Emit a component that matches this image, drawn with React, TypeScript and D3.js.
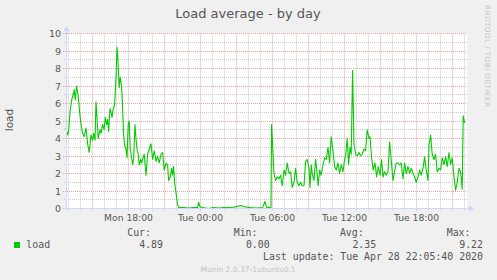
import React, { useEffect } from 'react';
import * as d3 from 'd3';

// Graph start: Mon Apr 27 2020 12:45:40, 5-minute samples, 2000 minutes shown
const START = new Date(2020, 3, 27, 12, 45, 40);
const SPAN_MINUTES = 2000;

// minutes since START
const loadMinutes = [
  2, 10, 15, 22, 30, 38, 43, 48, 55, 62, 68, 72, 77, 85, 93, 102, 110, 118, 127, 135,
  140, 147, 152, 157, 163, 172, 177, 185, 193, 198, 205, 210, 215, 222, 227, 232, 238, 245, 252, 257,
  262, 268, 273, 280, 285, 290, 295, 302, 307, 313, 318, 323, 330, 335, 340, 347, 352, 357, 363, 368,
  375, 380, 387, 393, 402,
  410, 418, 427, 435, 443, 452, 460, 468, 477, 485, 493, 502, 510, 515, 523, 530, 535, 540, 545, 552,
  560, 568, 590, 615, 640, 660, 665, 672, 685, 715, 740, 765, 790, 815, 843, 876, 893, 925, 955, 985,
  997, 1005, 1018, 1027,
  1030, 1042, 1050, 1058, 1067, 1075, 1083, 1092, 1100, 1108,
  1117, 1125, 1133, 1142, 1150, 1158, 1167, 1175, 1183, 1192,
  1200, 1208, 1217, 1222, 1228, 1233, 1242, 1250, 1255, 1263,
  1270, 1278, 1287, 1295, 1303, 1312, 1320, 1328, 1337, 1345,
  1353, 1362, 1370, 1378, 1387, 1395, 1400, 1408, 1415, 1422,
  1428, 1435, 1442, 1450, 1458, 1467, 1475, 1483, 1492, 1500,
  1508, 1517, 1522, 1530, 1538, 1547, 1555, 1563, 1572, 1580,
  1587, 1595, 1603, 1612, 1620, 1628, 1637, 1645, 1653, 1662,
  1670, 1678, 1687, 1695, 1703, 1712, 1720, 1728, 1737, 1745,
  1753, 1762, 1770, 1778, 1787, 1795, 1803, 1812, 1817, 1825,
  1833, 1842, 1850, 1858, 1867, 1875, 1883, 1892, 1900, 1908,
  1917, 1925, 1933, 1942, 1950, 1958, 1967, 1975, 1983, 1988,
  1995,
];

const loadValues = [
  4.6, 4.2, 4.4, 5.5, 6.2, 6.5, 6.8, 6.2, 7.0, 6.5, 5.8, 5.3, 4.8, 4.3, 4.1, 4.6, 3.7, 3.2, 4.2, 3.9,
  4.3, 3.9, 6.1, 5.2, 4.0, 4.5, 4.3, 4.8, 4.5, 5.2, 4.8, 5.1, 4.4, 5.7, 5.5, 5.2, 5.7, 5.9, 7.5, 9.22,
  8.4, 6.9, 7.5, 7.0, 5.7, 4.2, 3.6, 3.4, 2.9, 4.8, 5.0, 3.4, 2.9, 2.5, 2.8, 4.8, 4.0, 3.4, 3.1, 2.5,
  2.8, 2.6, 2.9, 3.1, 1.9,
  3.1, 3.4, 3.7, 2.8, 3.3, 2.7, 3.0, 2.6, 3.1, 3.2, 2.2, 2.6, 2.5, 1.6, 1.8, 2.3, 1.9, 2.4, 1.5, 0.9,
  0.2, 0.05, 0.05, 0.02, 0.05, 0.06, 0.36, 0.1, 0.05, 0.0, 0.05, 0.02, 0.05, 0.06, 0.08, 0.17, 0.1, 0.05, 0.02, 0.05,
  0.4, 0.08, 0.05, 0.05,
  4.8, 2.0, 1.6, 1.8, 1.7, 1.9, 1.3, 2.2, 1.9, 2.6,
  2.0, 2.1, 1.2, 1.5, 2.3, 1.5, 1.3, 1.5, 1.3, 1.3,
  2.7, 2.8, 2.3, 1.2, 2.5, 2.0, 1.6, 2.8, 2.3, 1.3,
  2.2, 1.9, 2.5, 2.9, 2.8, 3.5, 2.6, 4.1, 3.3, 2.4,
  2.2, 2.6, 2.0, 2.5, 2.1, 2.8, 3.0, 4.0, 2.5, 3.5,
  3.1, 7.9, 3.7, 3.1, 3.0, 3.2, 3.0, 3.1, 3.4, 3.3,
  4.5, 4.0, 4.1, 2.9, 2.2, 2.6, 1.8, 2.4, 1.9, 2.8,
  1.8, 2.1, 1.9, 2.1, 3.8, 2.8, 1.6, 2.1, 2.6, 2.6,
  2.5, 2.6, 1.7, 2.6, 2.0, 2.4, 2.0, 2.3, 2.0, 1.8,
  1.5, 1.8, 2.2, 1.9, 2.3, 2.95, 2.2, 1.6, 3.6, 4.2,
  3.1, 2.8, 3.1, 2.1, 2.3, 2.2, 2.9, 2.5, 2.95, 2.4,
  3.2, 2.5, 2.9, 1.8, 1.05, 1.5, 2.3, 2.1, 1.1, 5.3,
  4.89,
];

const yMajorTicks = [0, 1, 2, 3, 4, 5, 6, 7, 8, 9, 10];
const yMinorTicks = [0.5, 1.5, 2.5, 3.5, 4.5, 5.5, 6.5, 7.5, 8.5, 9.5];

const TITLE = 'Load average - by day';
const Y_LABEL = 'load';
const SERIES_NAME = 'load';
const statLabels = ['Cur:', 'Min:', 'Avg:', 'Max:'];
const statValues = ['4.89', '0.00', '2.35', '9.22'];
const LAST_UPDATE = 'Last update: Tue Apr 28 22:05:40 2020';
const FOOTER = 'Munin 2.0.37-1ubuntu0.1';
const WATERMARK = 'RRDTOOL / TOBI OETIKER';

const W = 497;
const H = 280;
const PLOT_L = 65.6;
const PLOT_R = 465.6;
const PLOT_T = 33.5;
const PLOT_B = 208.5;

const SANS = "'DejaVu Sans', sans-serif";
const MONO = "'DejaVu Sans Mono', monospace";
const FONT_COLOR = '#555555';
const AXIS_COLOR = '#CFD6F8';
const GRID_COLOR = '#c8c8c8';
const MGRID_COLOR = '#f2a0a0';
const LINE_COLOR = '#00cc00';

export default function App() {
  useEffect(() => {
    document.body.style.margin = '0';
    document.body.style.background = '#f0f0f0';
  }, []);

  const end = d3.timeMinute.offset(START, SPAN_MINUTES);
  const xs = d3.scaleTime().domain([START, end]).range([PLOT_L, PLOT_R]);
  const ys = d3.scaleLinear().domain([0, 10]).range([PLOT_B, PLOT_T]);

  const data = loadMinutes.map((m, i) => ({
    t: new Date(START.getTime() + m * 60000),
    v: loadValues[i],
  }));

  const line = d3
    .line<{ t: Date; v: number }>()
    .x((d) => xs(d.t))
    .y((d) => ys(d.v));

  const px = (x: number) => Math.floor(x) + 0.5;

  const hourTicks = xs.ticks(d3.timeHour.every(1)!);
  const majorTicks = xs.ticks(d3.timeHour.every(3)!);
  const labelTicks = xs.ticks(d3.timeHour.every(6)!);
  const majorSet = new Set(majorTicks.map((d) => d.getTime()));
  const fmt = d3.timeFormat('%a %H:%M');

  const axisX = 66.5;
  const axisY = PLOT_B;
  const canvasL = 66;
  const canvasR = 467;

  return (
    <div style={{ position: 'fixed', left: 0, top: 0 }}>
      <svg width={W} height={H} style={{ display: 'block' }}>
        <rect x={0} y={0} width={W} height={H} fill="#f0f0f0" />
        <rect x={canvasL} y={33} width={canvasR - canvasL} height={176} fill="#ffffff" />

        {/* minor horizontal grid */}
        {yMinorTicks.map((v) => (
          <line key={'ym' + v} x1={canvasL - 2} x2={canvasR} y1={px(ys(v))} y2={px(ys(v))}
            stroke={GRID_COLOR} strokeWidth={1} strokeDasharray="1,1" />
        ))}
        {/* minor vertical grid */}
        {hourTicks.filter((d) => !majorSet.has(d.getTime())).map((d) => (
          <line key={'xm' + d.getTime()} x1={px(xs(d))} x2={px(xs(d))} y1={PLOT_T} y2={axisY + 2}
            stroke={GRID_COLOR} strokeWidth={1} strokeDasharray="1,1" />
        ))}
        {/* major horizontal grid */}
        {yMajorTicks.map((v) => (
          <line key={'yM' + v} x1={canvasL - 3} x2={canvasR} y1={px(ys(v))} y2={px(ys(v))}
            stroke={MGRID_COLOR} strokeWidth={1} strokeDasharray="1,1" />
        ))}
        {/* major vertical grid */}
        {majorTicks.map((d) => (
          <line key={'xM' + d.getTime()} x1={px(xs(d))} x2={px(xs(d))} y1={PLOT_T} y2={axisY + 3}
            stroke={MGRID_COLOR} strokeWidth={1} strokeDasharray="1,1" />
        ))}

        {/* data line */}
        <path d={line(data) || ''} fill="none" stroke={LINE_COLOR} strokeWidth={1.1} strokeLinejoin="round" />

        {/* axes */}
        <line x1={axisX} x2={axisX} y1={axisY + 1} y2={28} stroke={AXIS_COLOR} strokeWidth={1} />
        <line x1={canvasL - 1} x2={471} y1={axisY} y2={axisY} stroke={AXIS_COLOR} strokeWidth={1} />
        <path d={`M${axisX - 3},${31} L${axisX + 3},${31} L${axisX},${26} Z`} fill={AXIS_COLOR} />
        <path d={`M${469},${axisY - 3} L${469},${axisY + 3} L${474},${axisY} Z`} fill={AXIS_COLOR} />

        {/* y tick labels */}
        {yMajorTicks.map((v) => (
          <text key={'yl' + v} x={61} y={ys(v) + 3.5} textAnchor="end" fontFamily={SANS}
            fontSize={9.5} fill={FONT_COLOR}>{v}</text>
        ))}
        {/* x tick labels */}
        {labelTicks.map((d) => (
          <text key={'xl' + d.getTime()} x={px(xs(d))} y={221} textAnchor="middle" fontFamily={SANS}
            fontSize={9.2} fill={FONT_COLOR}>{fmt(d)}</text>
        ))}

        {/* title */}
        <text x={248} y={18} textAnchor="middle" fontFamily={SANS} fontSize={13} fill={FONT_COLOR}>{TITLE}</text>
        {/* y axis label */}
        <text transform="translate(13,120) rotate(-90)" textAnchor="middle" fontFamily={SANS}
          fontSize={10.5} fill={FONT_COLOR}>{Y_LABEL}</text>
        {/* watermark */}
        <text transform="translate(484.5,5) rotate(90)" textAnchor="start" fontFamily={SANS}
          fontSize={7.3} fill="#c8c8c8" textLength={102} lengthAdjust="spacing">{WATERMARK}</text>

        {/* legend */}
        <rect x={14} y={242} width={6} height={6} fill={LINE_COLOR} />
        <text x={26.3} y={248} fontFamily={MONO} fontSize={9.9} fill={FONT_COLOR}>{SERIES_NAME}</text>
        {statLabels.map((s, i) => (
          <text key={s} x={[151, 257.5, 363.7, 470.5][i]} y={236} textAnchor="end" fontFamily={MONO}
            fontSize={9.9} fill={FONT_COLOR}>{s}</text>
        ))}
        {statValues.map((s, i) => (
          <text key={'v' + i} x={[163, 269.7, 376.2, 483][i]} y={248} textAnchor="end" fontFamily={MONO}
            fontSize={9.9} fill={FONT_COLOR}>{s}</text>
        ))}
        <text x={483} y={260} textAnchor="end" fontFamily={MONO} fontSize={9.9} fill={FONT_COLOR}>{LAST_UPDATE}</text>
        <text x={248} y={272} textAnchor="middle" fontFamily={SANS} fontSize={7.5} fill="#c4c4c4">{FOOTER}</text>
      </svg>
    </div>
  );
}
